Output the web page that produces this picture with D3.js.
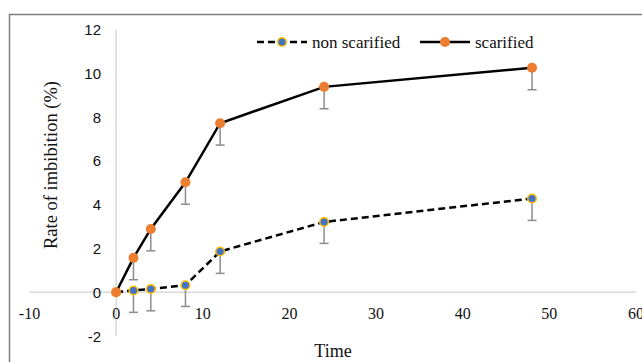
<!DOCTYPE html>
<html>
<head>
<meta charset="utf-8">
<script src="https://cdnjs.cloudflare.com/ajax/libs/d3/7.8.5/d3.min.js"></script>
<style>
  body { margin: 0; background: #fff; }
  svg { display: block; }
</style>
</head>
<body>
<div id="chart"></div>
<script>
// data
var times = [0, 2, 4, 8, 12, 24, 48];
var nonScarified = [0, 0.08, 0.15, 0.32, 1.86, 3.21, 4.28];
var scarified = [0, 1.57, 2.89, 5.02, 7.72, 9.38, 10.25];
var nonScarifiedErr = [0, 1.0, 1.0, 0.97, 1.0, 0.98, 1.0];
var scarifiedErr = [0, 1.0, 1.0, 1.0, 1.0, 1.0, 1.0];
var xTicks = [-10, 0, 10, 20, 30, 40, 50, 60];
var yTicks = [-2, 0, 2, 4, 6, 8, 10, 12];

var width = 642, height = 362;

var svg = d3.select("#chart").append("svg")
  .attr("width", width)
  .attr("height", height);

// outer frame (only left and top edges visible)
svg.append("path")
  .attr("d", "M9.5,362 L9.5,14.5 L642,14.5")
  .attr("fill", "none")
  .attr("stroke", "#7f7f7f")
  .attr("stroke-width", 1.5);

var x = d3.scaleLinear().domain([-10, 60]).range([29.5, 636]);
var y = d3.scaleLinear().domain([-2, 12]).range([336, 29.5]);

// axes through the origin
svg.append("line")
  .attr("x1", x(-10)).attr("x2", x(60))
  .attr("y1", y(0)).attr("y2", y(0))
  .attr("stroke", "#d0d0d0").attr("stroke-width", 1.2);
svg.append("line")
  .attr("x1", x(0)).attr("x2", x(0))
  .attr("y1", y(-2)).attr("y2", y(12))
  .attr("stroke", "#d0d0d0").attr("stroke-width", 1.2);

// tick labels
svg.append("g").selectAll("text")
  .data(xTicks)
  .join("text")
  .attr("x", function (d) { return x(d); })
  .attr("y", y(0) + 27)
  .attr("text-anchor", "middle")
  .attr("font-family", "Liberation Serif, serif")
  .attr("font-size", 16)
  .attr("fill", "#111")
  .text(function (d) { return d; });

svg.append("g").selectAll("text")
  .data(yTicks)
  .join("text")
  .attr("x", 101)
  .attr("y", function (d) { return y(d) + 5.5; })
  .attr("text-anchor", "end")
  .attr("font-family", "Liberation Sans, sans-serif")
  .attr("font-size", 15)
  .attr("fill", "#111")
  .text(function (d) { return d; });

// axis titles
svg.append("text")
  .attr("transform", "translate(57,165) rotate(-90)")
  .attr("text-anchor", "middle")
  .attr("font-family", "Liberation Serif, serif")
  .attr("font-size", 18.5)
  .attr("fill", "#111")
  .text("Rate of imbibition (%)");

svg.append("text")
  .attr("x", 333)
  .attr("y", 357)
  .attr("text-anchor", "middle")
  .attr("font-family", "Liberation Serif, serif")
  .attr("font-size", 18)
  .attr("fill", "#111")
  .text("Time");

var series = [
  { name: "non scarified", values: nonScarified, err: nonScarifiedErr,
    dash: "7,4", fill: "#4472c4", stroke: "#ffc000" },
  { name: "scarified", values: scarified, err: scarifiedErr,
    dash: null, fill: "#ed7d31", stroke: "#ed7d31" }
];

var line = d3.line()
  .x(function (d) { return x(d[0]); })
  .y(function (d) { return y(d[1]); });

series.forEach(function (s) {
  var pts = times.map(function (t, i) { return [t, s.values[i], s.err[i]]; });

  // lower error bars
  var eb = svg.append("g").selectAll("g")
    .data(pts.filter(function (d) { return d[2] > 0; }))
    .join("g");
  eb.append("line")
    .attr("x1", function (d) { return x(d[0]); })
    .attr("x2", function (d) { return x(d[0]); })
    .attr("y1", function (d) { return y(d[1]); })
    .attr("y2", function (d) { return y(d[1] - d[2]); })
    .attr("stroke", "#8c8c8c").attr("stroke-width", 1.5);
  eb.append("line")
    .attr("x1", function (d) { return x(d[0]) - 4.5; })
    .attr("x2", function (d) { return x(d[0]) + 4.5; })
    .attr("y1", function (d) { return y(d[1] - d[2]); })
    .attr("y2", function (d) { return y(d[1] - d[2]); })
    .attr("stroke", "#8c8c8c").attr("stroke-width", 1.5);

  svg.append("path")
    .datum(pts)
    .attr("d", line)
    .attr("fill", "none")
    .attr("stroke", "#000")
    .attr("stroke-width", 2.5)
    .attr("stroke-dasharray", s.dash);

  svg.append("g").selectAll("circle")
    .data(pts)
    .join("circle")
    .attr("cx", function (d) { return x(d[0]); })
    .attr("cy", function (d) { return y(d[1]); })
    .attr("r", s.name === "scarified" ? 5 : 4.3)
    .attr("fill", s.fill)
    .attr("stroke", s.stroke)
    .attr("stroke-width", s.name === "scarified" ? 0 : 1.5);
});

// legend
var legendX = [257, 420];
var legend = svg.append("g").selectAll("g")
  .data(series)
  .join("g")
  .attr("transform", function (d, i) { return "translate(" + legendX[i] + ",42)"; });
legend.append("line")
  .attr("x1", 0).attr("x2", 50)
  .attr("stroke", "#000").attr("stroke-width", 2.5)
  .attr("stroke-dasharray", function (d) { return d.dash; });
legend.append("circle")
  .attr("cx", 25).attr("r", function (d) { return d.name === "scarified" ? 5 : 4.3; })
  .attr("fill", function (d) { return d.fill; })
  .attr("stroke", function (d) { return d.stroke; })
  .attr("stroke-width", function (d) { return d.name === "scarified" ? 0 : 1.5; });
legend.append("text")
  .attr("x", 55).attr("y", 5.5)
  .attr("font-family", "Liberation Serif, serif")
  .attr("font-size", 17)
  .attr("fill", "#111")
  .text(function (d) { return d.name; });
</script>
</body>
</html>
